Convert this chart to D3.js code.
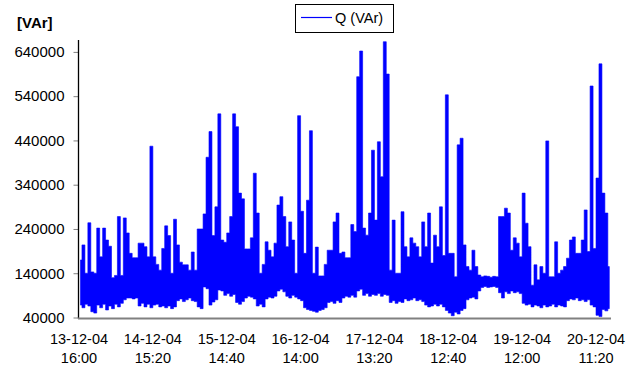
<!DOCTYPE html>
<html>
<head>
<meta charset="utf-8">
<script src="https://cdn.jsdelivr.net/npm/d3@7"></script>
<style>
  html, body { margin: 0; padding: 0; background: #fff; }
  svg { display: block; font-family: Arial, "Liberation Sans", sans-serif; }
</style>
</head>
<body>
<svg id="chart" width="644" height="369"></svg>
<script>
// Reactive power Q in kVAr, one 56-minute interval per entry starting 13-12-04 16:00:
// lowest and highest reading inside each interval.
const qLow = [
  68, 62, 70, 66, 53, 50, 68, 62, 70, 57, 66, 60, 70, 64, 72, 80, 84, 84, 82, 84,
  66, 72, 64, 70, 62, 68, 70, 64, 66, 62, 66, 60, 64, 78, 82, 76, 80, 84, 78, 76,
  64, 60, 109, 105, 68, 75, 80, 102, 100, 90, 94, 88, 92, 74, 70, 76, 84, 88, 86, 82,
  66, 70, 64, 82, 86, 84, 88, 100, 104, 98, 88, 84, 90, 86, 82, 78, 62, 58, 56, 54,
  52, 56, 58, 62, 74, 76, 72, 78, 74, 84, 88, 86, 90, 86, 100, 104, 90, 94, 88, 92,
  90, 94, 88, 92, 90, 74, 78, 72, 76, 74, 82, 78, 80, 84, 78, 80, 76, 68, 64, 66,
  70, 66, 70, 64, 56, 50, 44, 52, 48, 56, 60, 80, 84, 86, 82, 100, 108, 110, 108, 109,
  110, 108, 96, 84, 98, 94, 100, 96, 98, 94, 72, 68, 70, 64, 68, 66, 62, 68, 64, 66,
  70, 64, 68, 66, 64, 78, 82, 80, 84, 78, 80, 76, 80, 68, 64, 45, 42, 58, 55, 60
];
const qHigh = [
  170, 204, 140, 254, 143, 140, 242, 177, 242, 215, 201, 130, 135, 268, 135, 265, 231, 185, 175, 175,
  208, 208, 200, 177, 427, 177, 160, 147, 196, 247, 225, 140, 262, 204, 165, 159, 159, 147, 188, 147,
  240, 240, 274, 402, 460, 225, 290, 500, 215, 210, 231, 268, 500, 471, 321, 308, 195, 195, 220, 366,
  276, 140, 160, 211, 192, 177, 208, 294, 313, 268, 200, 256, 215, 140, 496, 280, 185, 305, 462, 140,
  199, 134, 134, 160, 192, 192, 256, 276, 185, 188, 175, 175, 250, 234, 584, 642, 242, 226, 276, 418,
  260, 437, 358, 663, 590, 147, 260, 140, 140, 279, 200, 177, 220, 208, 200, 177, 256, 200, 276, 163,
  226, 200, 290, 180, 543, 185, 185, 132, 430, 445, 204, 155, 147, 192, 155, 136, 132, 134, 133, 131,
  133, 132, 268, 268, 287, 276, 192, 220, 208, 177, 321, 253, 200, 113, 159, 125, 155, 140, 439, 132,
  132, 211, 140, 147, 155, 174, 215, 222, 185, 185, 215, 283, 189, 563, 196, 355, 613, 321, 276, 155
];

const startTime = new Date(2004, 11, 13, 16, 0);
const stepMinutes = 56;
const labelStepMinutes = 1400;           // 23 h 20 min between date labels
const labelCount = 8;
const spanMinutes = 10084;

const yTickValues = [40000, 140000, 240000, 340000, 440000, 540000, 640000];
const yUnitLabel = "[VAr]";
const seriesName = "Q (VAr)";

const minute = 60 * 1000;
const series = qLow.map((lo, i) => ({
  t: new Date(startTime.getTime() + (i + 0.5) * stepMinutes * minute),
  lo: lo * 1000,
  hi: qHigh[i] * 1000
}));
const xTickValues = d3.range(labelCount).map(k => new Date(startTime.getTime() + k * labelStepMinutes * minute));

const svg = d3.select("#chart");
svg.append("rect").attr("width", 644).attr("height", 369).attr("fill", "#fff");

const plotLeft = 78.5, plotRight = 611, plotTop = 40, plotBottom = 317.5;

const x = d3.scaleTime()
  .domain([startTime, new Date(startTime.getTime() + spanMinutes * minute)])
  .range([79, plotRight]);
const y = d3.scaleLinear()
  .domain([40000, 640000])
  .range([plotBottom, 51.9]);

// dense trace drawn as the min/max band of every interval
const band = d3.area()
  .x(d => x(d.t))
  .y0(d => y(d.lo))
  .y1(d => y(d.hi))
  .curve(d3.curveStep);
svg.append("path")
  .datum(series)
  .attr("fill", "#0000ff")
  .attr("stroke", "#0000ff")
  .attr("stroke-width", 0.6)
  .attr("d", band);

// y axis
const yAxis = d3.axisLeft(y)
  .tickValues(yTickValues)
  .tickFormat(d3.format("d"))
  .tickSize(5)
  .tickPadding(9);
const gy = svg.append("g").attr("transform", `translate(${plotLeft},0)`).call(yAxis);
gy.select(".domain").remove();
gy.selectAll(".tick line").attr("stroke", "#808080").attr("stroke-width", 1);
gy.selectAll(".tick text")
  .attr("fill", "#000")
  .style("font-size", "15px")
  .style("font-family", "Arial, 'Liberation Sans', sans-serif");
svg.append("line")
  .attr("x1", plotLeft).attr("x2", plotLeft)
  .attr("y1", plotTop).attr("y2", plotBottom + 1)
  .attr("stroke", "#000").attr("stroke-width", 1.3);

// x axis
svg.append("line")
  .attr("x1", plotLeft - 0.5).attr("x2", plotRight)
  .attr("y1", plotBottom + 1).attr("y2", plotBottom + 1)
  .attr("stroke", "#808080").attr("stroke-width", 2);

const fmtDate = d3.timeFormat("%d-%m-%y");
const fmtTime = d3.timeFormat("%H:%M");
const xl = svg.append("g").selectAll("text")
  .data(xTickValues)
  .join("text")
  .attr("text-anchor", "middle")
  .attr("fill", "#000")
  .style("font-size", "14.5px");
xl.append("tspan").attr("x", d => x(d)).attr("y", 344).text(fmtDate);
xl.append("tspan").attr("x", d => x(d)).attr("y", 362.5).text(fmtTime);

// unit label
svg.append("text")
  .attr("x", 17).attr("y", 28)
  .attr("fill", "#000")
  .style("font-size", "15px")
  .style("font-weight", "bold")
  .text(yUnitLabel);

// legend
const lg = svg.append("g");
lg.append("rect")
  .attr("x", 295.5).attr("y", 4.5).attr("width", 98).attr("height", 28)
  .attr("fill", "#fff").attr("stroke", "#000").attr("stroke-width", 1);
lg.append("line")
  .attr("x1", 301).attr("x2", 332).attr("y1", 17.5).attr("y2", 17.5)
  .attr("stroke", "#0000ff").attr("stroke-width", 1.2);
lg.append("text")
  .attr("x", 335).attr("y", 22.5)
  .attr("fill", "#000")
  .style("font-size", "14.5px")
  .text(seriesName);
</script>
</body>
</html>
